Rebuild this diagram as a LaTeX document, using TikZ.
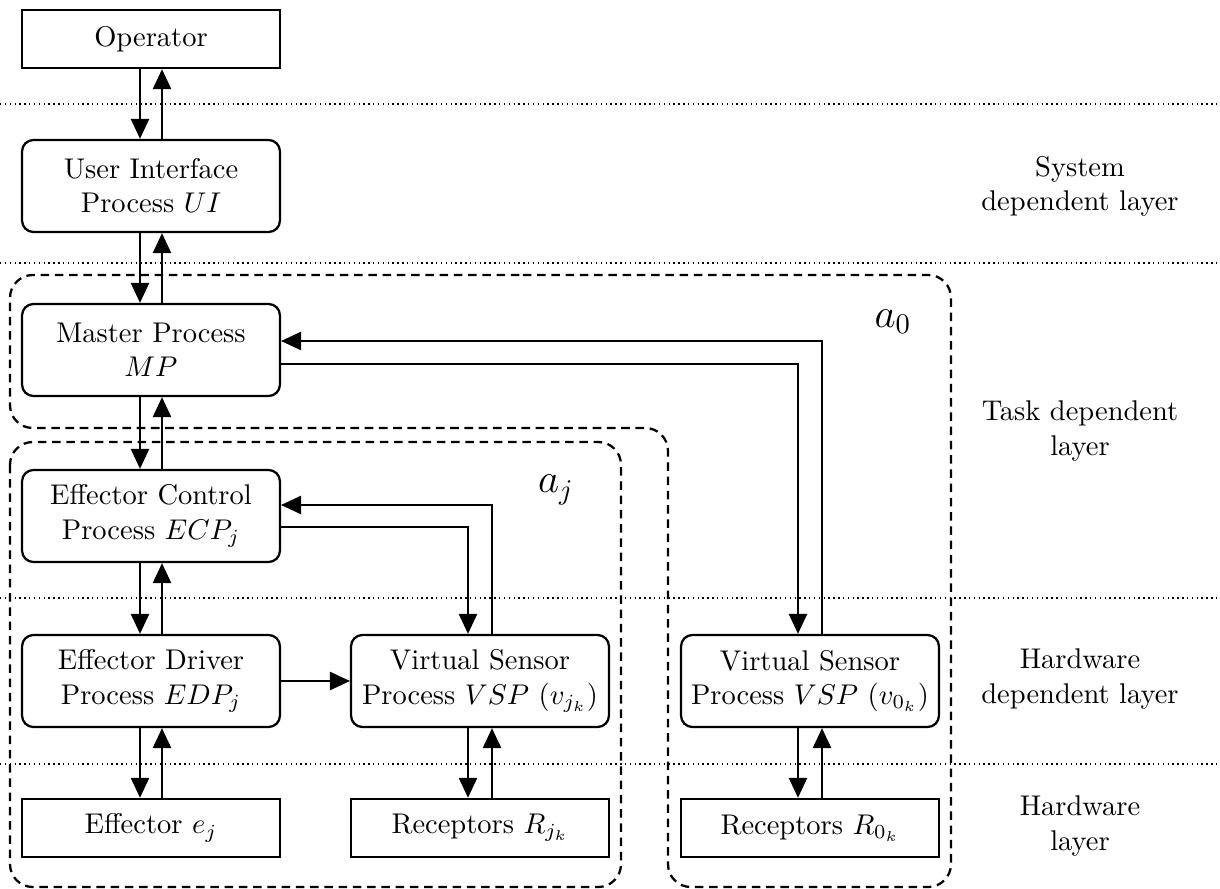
\documentclass[tikz,border=0pt]{standalone}
\usetikzlibrary{arrows.meta}
\begin{document}
\begin{tikzpicture}[x=0.3509pt,y=-0.3509pt,
  box/.style={draw, line width=0.8pt, minimum width=90.5pt, align=center, inner sep=2pt},
  rbox/.style={box, rounded corners=4pt, minimum height=32.3pt},
  sbox/.style={box, minimum height=20.4pt},
  conn/.style={line width=0.6pt},
  arr/.style={conn, -{Triangle[length=7pt,width=6.4pt]}},
  region/.style={line width=0.8pt, dash pattern=on 3pt off 2pt, rounded corners=8pt},
  layerline/.style={line width=0.5pt, dash pattern=on 0.5pt off 1.2pt},
  layerlabel/.style={align=center}]
\useasboundingbox (0,0) rectangle (1220,889);

% layer separators
\draw[layerline] (0,104) -- (1220,104);
\draw[layerline] (0,263) -- (1220,263);
\draw[layerline] (0,598) -- (1220,598);
\draw[layerline] (0,764) -- (1220,764);

% regions
\draw[region] (500,275) -- (951,275) -- (951,887) -- (668,887) -- (668,428) -- (10,428) -- (10,275) -- cycle;
\draw[region] (10,442) rectangle (621,887);
\node (a0) at (893,322) {\Large $a_0$};
\node (aj) at (556,490) {\Large $a_j$};

% boxes
\node[sbox] (op) at (151,39) {Operator};
\node[rbox] (ui) at (151,186) {User Interface\\Process $UI$};
\node[rbox] (mp) at (151,350) {Master Process\\$MP$};
\node[rbox] (ecp) at (151,516) {Effector Control\\Process $ECP_j$};
\node[rbox] (edp) at (151,681) {Effector Driver\\Process $EDP_j$};
\node[sbox] (eff) at (151,828) {Effector $e_j$};
\node[rbox] (vspj) at (480,681) {Virtual Sensor\\Process $VSP$ $(v_{j_k})$};
\node[sbox] (rj) at (480,828) {Receptors $R_{j_k}$};
\node[rbox] (vsp0) at (810,681) {Virtual Sensor\\Process $VSP$ $(v_{0_k})$};
\node[sbox] (r0) at (810,828) {Receptors $R_{0_k}$};

% layer labels
\node[layerlabel] (l1) at (1080,186) {System\\dependent layer};
\node[layerlabel] (l2) at (1080,431) {Task dependent\\layer};
\node[layerlabel] (l3) at (1080,679) {Hardware\\dependent layer};
\node[layerlabel] (l4) at (1080,826) {Hardware\\layer};

% helper coordinates
\coordinate (L1) at (140,0);
\coordinate (L2) at (162,0);
\coordinate (M1) at (468,0);
\coordinate (M2) at (492,0);
\coordinate (R1) at (798,0);
\coordinate (R2) at (822,0);
\coordinate (yA) at (0,341);
\coordinate (yB) at (0,364);
\coordinate (yC) at (0,505);
\coordinate (yD) at (0,527);

% vertical pairs
\draw[arr] (op.south -| L1) -- (ui.north -| L1);
\draw[arr] (ui.north -| L2) -- (op.south -| L2);
\draw[arr] (ui.south -| L1) -- (mp.north -| L1);
\draw[arr] (mp.north -| L2) -- (ui.south -| L2);
\draw[arr] (mp.south -| L1) -- (ecp.north -| L1);
\draw[arr] (ecp.north -| L2) -- (mp.south -| L2);
\draw[arr] (ecp.south -| L1) -- (edp.north -| L1);
\draw[arr] (edp.north -| L2) -- (ecp.south -| L2);
\draw[arr] (edp.south -| L1) -- (eff.north -| L1);
\draw[arr] (eff.north -| L2) -- (edp.south -| L2);
\draw[arr] (vspj.south -| M1) -- (rj.north -| M1);
\draw[arr] (rj.north -| M2) -- (vspj.south -| M2);
\draw[arr] (vsp0.south -| R1) -- (r0.north -| R1);
\draw[arr] (r0.north -| R2) -- (vsp0.south -| R2);

% long connectors
\draw[arr] (vsp0.north -| R2) -- (R2 |- yA) -- (mp.east |- yA);
\draw[arr] (mp.east |- yB) -| (vsp0.north -| R1);
\draw[arr] (vspj.north -| M2) -- (M2 |- yC) -- (ecp.east |- yC);
\draw[arr] (ecp.east |- yD) -| (vspj.north -| M1);
\draw[arr] (edp.east) -- (vspj.west);
\end{tikzpicture}
\end{document}
